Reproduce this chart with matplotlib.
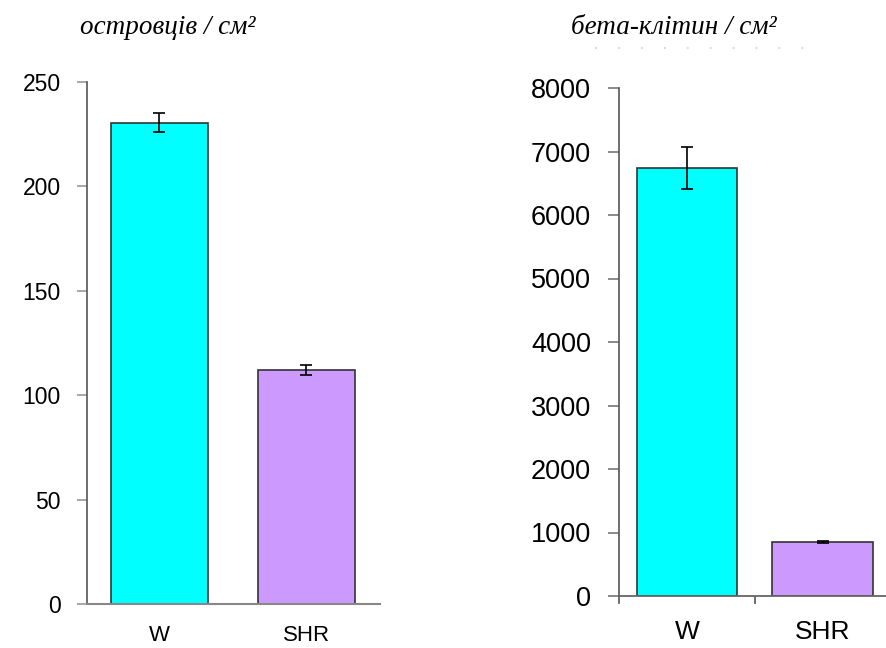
import matplotlib
matplotlib.use("Agg")
import matplotlib.pyplot as plt
from matplotlib.lines import Line2D

# data
groups = ["W", "SHR"]
islets = [230.5, 112.0]        # островців / см2
islets_err = [4.5, 2.4]
beta = [6740, 850]             # бета-клітин / см2
beta_err = [330, 15]
bar_colors = ["#00FFFF", "#CC99FF"]

left_ticks = [0, 50, 100, 150, 200, 250]
right_ticks = [0, 1000, 2000, 3000, 4000, 5000, 6000, 7000, 8000]

fig = plt.figure(figsize=(8.87, 6.48), dpi=100)
plt.rcParams['font.family'] = ['Liberation Sans', 'DejaVu Sans']

spine_col = "#555555"

# ---------------- left panel ----------------
ax1 = fig.add_axes([87/887, 1-604/648, (380-87)/887, (604-82)/648])
ax1.bar(range(len(groups)), islets, width=0.66, color=bar_colors,
        edgecolor="#333333", linewidth=1.2, zorder=2)
ax1.errorbar(range(len(groups)), islets, yerr=islets_err, fmt="none",
             ecolor="black", elinewidth=1.2, capsize=4, capthick=1.2, zorder=3)
ax1.set_xlim(-0.493, 1.5)
ax1.set_ylim(0, 250)
ax1.set_yticks(left_ticks)
ax1.set_xticks(range(len(groups)))
ax1.set_xticklabels(groups)
ax1.tick_params(axis="y", direction="out", length=7, width=1.2, color="#999999",
                labelsize=16.5, pad=12)
ax1.tick_params(axis="x", length=0, labelsize=16, pad=15)
for s in ["top", "right"]:
    ax1.spines[s].set_visible(False)
ax1.spines["left"].set_color(spine_col)
ax1.spines["left"].set_linewidth(1.2)
ax1.spines["bottom"].set_color("#888888")
ax1.spines["bottom"].set_linewidth(1.5)

# ---------------- right panel ----------------
ax2 = fig.add_axes([619/887, 1-596/648, (887-619)/887, (596-88)/648])
ax2.bar(range(len(groups)), beta, width=0.74, color=bar_colors,
        edgecolor="#333333", linewidth=1.2, zorder=2)
ax2.errorbar(range(len(groups)), beta, yerr=beta_err, fmt="none",
             ecolor="black", elinewidth=1.2, capsize=4.3, capthick=1.2, zorder=3)
ax2.set_xlim(-0.502, 1.476)
ax2.set_ylim(0, 8000)
ax2.set_yticks(right_ticks)
ax2.set_xticks(range(len(groups)))
ax2.set_xticklabels(groups)
ax2.set_xticks([0.5], minor=True)
ax2.tick_params(axis="y", direction="out", length=8, width=1.2, color="#777777",
                labelsize=19.5, pad=12)
ax2.tick_params(axis="x", which="major", length=0, labelsize=19, pad=17)
ax2.tick_params(axis="x", which="minor", direction="out", length=5.5, width=1.2,
                color="#555555")
for s in ["top", "right"]:
    ax2.spines[s].set_visible(False)
ax2.spines["left"].set_color(spine_col)
ax2.spines["left"].set_linewidth(1.2)
ax2.spines["left"].set_bounds(-115, 8000)
ax2.spines["bottom"].set_color("#666666")
ax2.spines["bottom"].set_linewidth(1.3)

# titles
title_font = dict(family=["Liberation Serif", "DejaVu Serif"], style="italic",
                  fontsize=19.5, ha="center", va="center")
fig.text(168/887, 1-27/648, "островців / см²", **title_font)
fig.text(674/887, 1-28/648, "бета-клітин / см²", **title_font)

# faint dotted line under the right title
fig.add_artist(Line2D([595/887, 810/887], [1-48/648, 1-48/648],
                      transform=fig.transFigure, color="#dddddd",
                      linestyle=(0, (1, 10)), linewidth=1.5))

fig.savefig("out.png", dpi=100)
